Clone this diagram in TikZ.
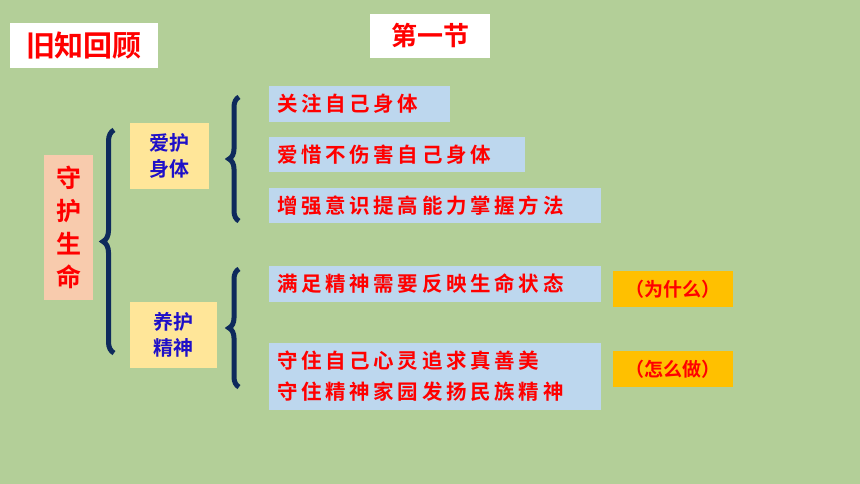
\documentclass[tikz,border=0pt]{standalone}
\usepackage{fontspec}
\newfontfamily\cjk{Noto Sans CJK SC}[BoldFont={Noto Sans CJK SC Bold}]
\newfontfamily\cjksp{Noto Sans CJK SC}[BoldFont={Noto Sans CJK SC Bold},LetterSpace=18]
\usetikzlibrary{decorations.pathreplacing}
\definecolor{bg}{HTML}{B3CF98}
\definecolor{navy}{HTML}{0E2A5C}
\definecolor{lblue}{HTML}{BDD7EE}
\definecolor{yel}{HTML}{FFE699}
\definecolor{peach}{HTML}{F8CBAD}
\definecolor{org}{HTML}{FFC000}
\definecolor{tred}{HTML}{FF0000}
\definecolor{tblue}{HTML}{1F10C8}
\tikzset{
 box/.style={inner sep=0pt,outer sep=0pt},
 item/.style={box,fill=lblue,text=tred,font=\cjksp\bfseries\fontsize{20.5}{31}\selectfont,align=left},
 brc/.style={draw=navy,line width=5pt,decorate,decoration={brace,amplitude=#1}}
}
\begin{document}
\begin{tikzpicture}[x=1pt,y=-1pt]
\fill[bg] (0,0) rectangle (860,484);
\useasboundingbox (0,0) rectangle (860,484);
\node[box,fill=white,minimum width=148,minimum height=45,text=tred,font=\cjk\bfseries\fontsize{29}{32}\selectfont] (old) at (84,45.5) {旧知回顾};
\node[box,fill=white,minimum width=120,minimum height=44,text=tred,font=\cjk\bfseries\fontsize{26}{30}\selectfont] (sec) at (430,36) {第一节};
\node[box,fill=peach,minimum width=49,minimum height=145,text=tred,align=center,font=\cjk\bfseries\fontsize{25}{33}\selectfont] (life) at (68.5,227.5) {守\\护\\生\\命};
\node[box,fill=yel,minimum width=79,minimum height=66,text=tblue,align=center,font=\cjk\bfseries\fontsize{20}{26}\selectfont] (body) at (169.5,156) {爱护\\身体};
\node[box,fill=yel,minimum width=87,minimum height=66,text=tblue,align=center,font=\cjk\bfseries\fontsize{20}{26}\selectfont] (mind) at (173.5,335) {养护\\精神};
\draw[brc=11pt] (114,353) -- (114,130);
\draw[brc=10pt] (239,221) -- (239,97);
\draw[brc=10pt] (239,387) -- (239,269);
\node[item,minimum height=36,text width=181] (a1) at (359.5,104) {\hspace*{8pt}关注自己身体};
\node[item,minimum height=35,text width=256] (a2) at (397,154.5) {\hspace*{8pt}爱惜不伤害自己身体};
\node[item,minimum height=35,text width=332] (a3) at (435,205.5) {\hspace*{8pt}增强意识提高能力掌握方法};
\node[item,minimum height=36,text width=332] (b1) at (435,284) {\hspace*{8pt}满足精神需要反映生命状态};
\node[item,minimum height=67,text width=332] (b2) at (435,376.5) {\hspace*{8pt}守住自己心灵追求真善美\\\hspace*{8pt}守住精神家园发扬民族精神};
\node[box,fill=org,minimum width=120,minimum height=36,text=tred,font=\cjk\bfseries\fontsize{19}{22}\selectfont] (why) at (673,289) {（为什么）};
\node[box,fill=org,minimum width=120,minimum height=36,text=tred,font=\cjk\bfseries\fontsize{19}{22}\selectfont] (how) at (673,369) {（怎么做）};
\end{tikzpicture}
\end{document}
